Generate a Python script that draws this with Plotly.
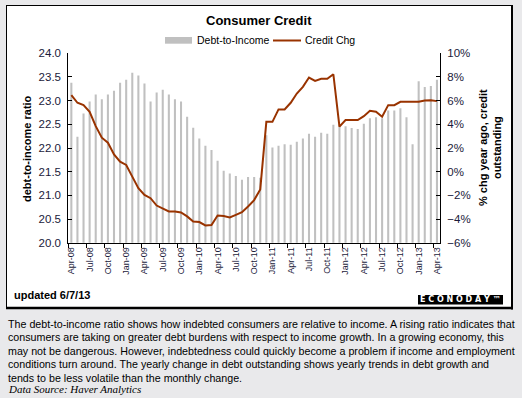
import pandas as pd
import plotly.graph_objects as go

# ---- data ----
months = list(pd.date_range("2008-04-01", periods=61, freq="MS").strftime("%b-%y"))

debt_to_income = [
    23.38, 22.24, 22.73, 22.98, 23.13, 23.03, 23.13, 23.21, 23.38, 23.44,
    23.59, 23.53, 23.36, 22.98, 23.17, 23.23, 23.13, 23.03, 22.98, 22.66,
    22.43, 22.20, 22.05, 21.96, 21.73, 21.52, 21.46, 21.41, 21.33, 21.39,
    21.39, 21.37, 22.27, 22.01, 22.05, 22.08, 22.07, 22.13, 22.20, 22.30,
    22.24, 22.32, 22.30, 22.49, 22.50, 22.46, 22.42, 22.40, 22.51, 22.63,
    22.65, 22.63, 22.79, 22.79, 22.84, 22.65, 22.08, 23.41, 23.29, 23.31,
    23.44,
]

credit_chg = [
    6.46, 5.82, 5.62, 5.06, 3.85, 2.87, 2.45, 1.46, 0.84, 0.57,
    -0.42, -1.39, -1.96, -2.24, -2.86, -3.14, -3.36, -3.36, -3.45, -3.78,
    -4.21, -4.26, -4.54, -4.51, -3.70, -3.75, -3.87, -3.65, -3.42, -2.94,
    -2.40, -1.50, 4.21, 4.21, 5.26, 5.26, 5.82, 6.60, 7.16, 7.95,
    7.67, 7.84, 7.84, 8.23, 3.80, 4.36, 4.36, 4.36, 4.69, 5.14,
    5.06, 4.64, 5.62, 5.62, 5.90, 5.90, 5.90, 5.90, 6.02, 6.04,
    5.96,
]

footer_lines = [
    "The debt-to-income ratio shows how indebted consumers are relative to income. A rising ratio indicates that",
    "consumers are taking on greater debt burdens with respect to income growth. In a growing economy, this",
    "may not be dangerous. However, indebtedness could quickly become a problem if income and employment",
    "conditions turn around. The yearly change in debt outstanding shows yearly trends in debt growth and",
    "tends to be less volatile than the monthly change.",
]

W, H = 522, 398
FONT = "Arial, Liberation Sans, sans-serif"
BAR_COLOR = "#c0c0c0"
LINE_COLOR = "#993300"
TICK_COLOR = "#1a1a3a"


def px(x):
    return x / W


def py(y):
    return 1 - y / H


def note(text, x, y, size, xanchor="center", family=FONT, color="black", angle=0):
    return dict(text=text, x=px(x), y=py(y), xref="paper", yref="paper", xanchor=xanchor,
                yanchor="middle", textangle=angle, showarrow=False,
                font=dict(size=size, color=color, family=family))


fig = go.Figure()
fig.add_trace(go.Bar(x=months, y=debt_to_income, marker_color=BAR_COLOR,
                     marker_line_width=0, name="Debt-to-Income", yaxis="y"))
fig.add_trace(go.Scatter(x=months, y=credit_chg, mode="lines", name="Credit Chg",
                         line=dict(color=LINE_COLOR, width=2), yaxis="y2"))

shapes = []
# white chart box
shapes.append(dict(type="rect", xref="paper", yref="paper", x0=px(6), x1=px(512), y0=py(308), y1=py(5),
                   fillcolor="white", line=dict(width=0), layer="below"))
shapes.append(dict(type="line", xref="paper", yref="paper", x0=px(6.5), x1=px(6.5), y0=py(309), y1=py(5),
                   line=dict(color="black", width=1)))
shapes.append(dict(type="line", xref="paper", yref="paper", x0=px(6), x1=px(513), y0=py(5.5), y1=py(5.5),
                   line=dict(color="black", width=1)))
shapes.append(dict(type="line", xref="paper", yref="paper", x0=px(512), x1=px(512), y0=py(309.5), y1=py(5),
                   line=dict(color="black", width=2)))
shapes.append(dict(type="line", xref="paper", yref="paper", x0=px(6), x1=px(513), y0=py(308), y1=py(308),
                   line=dict(color="black", width=2.5)))
# legend swatches
shapes.append(dict(type="rect", xref="paper", yref="paper", x0=px(165), x1=px(192), y0=py(43.7), y1=py(37),
                   fillcolor=BAR_COLOR, line=dict(width=0)))
shapes.append(dict(type="line", xref="paper", yref="paper", x0=px(273), x1=px(301), y0=py(40.5), y1=py(40.5),
                   line=dict(color=LINE_COLOR, width=2)))
# logo box
shapes.append(dict(type="rect", xref="paper", yref="paper", x0=px(418), x1=px(503), y0=py(304.5), y1=py(295),
                   fillcolor="black", line=dict(width=0)))

ann = [
    note("<b>Consumer Credit</b>", 259, 21, 13),
    note("Debt-to-Income", 195, 40.5, 10.5, xanchor="left"),
    note("Credit Chg", 303, 40.5, 10.5, xanchor="left"),
    note("<b>debt-to-income ratio</b>", 27, 149, 11, angle=-90),
    note("<b>% chg year ago, credit<br>outstanding</b>", 490, 148, 11, angle=-90),
    note("<b>updated 6/7/13</b>", 12, 295, 11, xanchor="left"),
    note("<b>E C O N O D A Y ™</b>", 460.5, 299.8, 8, family="DejaVu Sans, sans-serif", color="white"),
]
for i, line in enumerate(footer_lines):
    ann.append(note(line, 6, 323.5 + 13.5 * i, 10.7, xanchor="left"))
ann.append(note("<i>Data Source: Haver Analytics</i>", 6, 389, 11, xanchor="left",
                family="Times New Roman, Liberation Serif, serif"))

fig.update_layout(
    width=W, height=H,
    margin=dict(l=0, r=0, t=0, b=0, pad=0, autoexpand=False),
    paper_bgcolor="#e9e9eb",
    plot_bgcolor="rgba(0,0,0,0)",
    showlegend=False,
    bargap=0.66,
    shapes=shapes,
    annotations=ann,
    font=dict(family=FONT, color=TICK_COLOR),
    xaxis=dict(type="category", domain=[px(68.3), px(440)], range=[-0.5, 60.5], automargin=False,
               tickmode="linear", tick0=0, dtick=3, tickson="boundaries",
               ticks="outside", ticklen=4, tickcolor="black", tickangle=-90,
               showline=True, linecolor="black", linewidth=1, showgrid=False,
               tickfont=dict(size=9, color=TICK_COLOR), anchor="y"),
    yaxis=dict(domain=[py(242.7), py(53.3)], range=[20, 24], tickmode="linear", tick0=20, dtick=0.5,
               tickformat=".1f", ticks="inside", ticklen=4, tickcolor="black", automargin=False,
               showline=True, linecolor="black", linewidth=1, showgrid=False, zeroline=False,
               tickfont=dict(size=11.5, color=TICK_COLOR), ticklabelstandoff=4, anchor="x"),
    yaxis2=dict(overlaying="y", side="right", range=[-6, 10], tickmode="linear", tick0=-6, dtick=2,
                ticksuffix="%", ticks="inside", ticklen=4, tickcolor="black", automargin=False,
                showline=True, linecolor="black", linewidth=1, showgrid=False, zeroline=False,
                tickfont=dict(size=11.5, color=TICK_COLOR), ticklabelstandoff=4, anchor="x"),
)

fig.write_html("out.html", config={"displayModeBar": False},
               post_script="document.body.style.margin='0';document.body.style.overflow='hidden';")
